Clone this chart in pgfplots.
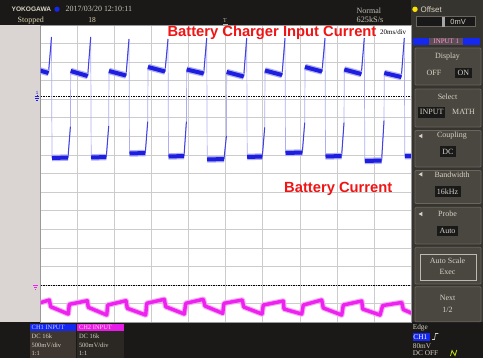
\documentclass[border=0pt]{standalone}
\usepackage{pgfplots}
\usepackage{pgfplotstable}
\pgfplotsset{compat=1.18}
\usepackage{fontspec}
\setmainfont{Liberation Serif}
\newfontfamily\sansf{Liberation Sans}

\definecolor{barbg}{HTML}{1A1918}
\definecolor{panelbg}{HTML}{36342F}
\definecolor{btn}{HTML}{4A4741}
\definecolor{btnedge}{HTML}{6A665D}
\definecolor{uitxt}{HTML}{D8D2C4}
\definecolor{strip}{HTML}{DAD5D3}
\definecolor{gridc}{HTML}{CCCCCC}
\definecolor{tr1}{HTML}{1E1EE0}
\definecolor{tr1light}{HTML}{AEAEF2}
\definecolor{tr2}{HTML}{EE22EE}
\definecolor{redtxt}{HTML}{F01414}
\definecolor{ch1blue}{HTML}{1428F0}
\definecolor{ch2mag}{HTML}{E81CE8}
\definecolor{inmid}{HTML}{5B4C55}
\definecolor{boxone}{HTML}{3E3731}
\definecolor{boxtwo}{HTML}{2B2723}

% CH1 (blue) full trace, screen pixel coordinates (y measured downward)
\pgfplotstableread{
x y
31.5 68
48.5 73
51.5 37
52 158
68 157.5
70.4 126.7
70.7 71
87.7 76
90.7 37
91.2 157.5
106.3 157
108.7 126
109 71
126 75.5
129 39
129.5 153.5
145.3 153
147.7 121.7
148 67
165 71.5
168 39
168.5 156.5
184 156
186.4 121.7
186.7 69.5
203.7 73.5
206.7 38
207.2 159.5
224 159
226.4 136
226.7 72
243.7 76.5
246.7 38
247.2 157
262.3 156.5
264.7 127.3
265 70.5
282 75
285 38
285.5 153
302.3 152.5
304.7 122.7
305 67
322 71.5
325 38
325.5 156.5
341.6 156
344 122.7
344.3 69.5
361.3 74
364.3 38
364.8 161
381.6 160.5
384 120.7
384.3 73
401.3 77
404.3 38
404.8 156
420 156
}\chfull

\pgfplotstableread{
x y
31.5 68
48.5 73
nan nan
70.7 71
87.7 76
nan nan
109 71
126 75.5
nan nan
148 67
165 71.5
nan nan
186.7 69.5
203.7 73.5
nan nan
226.7 72
243.7 76.5
nan nan
265 70.5
282 75
nan nan
305 67
322 71.5
nan nan
344.3 69.5
361.3 74
nan nan
384.3 73
401.3 77
nan nan
52 158
68 157.5
nan nan
91.2 157.5
106.3 157
nan nan
129.5 153.5
145.3 153
nan nan
168.5 156.5
184 156
nan nan
207.2 159.5
224 159
nan nan
247.2 157
262.3 156.5
nan nan
285.5 153
302.3 152.5
nan nan
325.5 156.5
341.6 156
nan nan
364.8 161
381.6 160.5
nan nan
404.8 156
420 156
}\chplat

\pgfplotstableread{
x y
48.5 73
51.5 37
nan nan
68 157.5
70.4 126.7
nan nan
87.7 76
90.7 37
nan nan
106.3 157
108.7 126
nan nan
126 75.5
129 39
nan nan
145.3 153
147.7 121.7
nan nan
165 71.5
168 39
nan nan
184 156
186.4 121.7
nan nan
203.7 73.5
206.7 38
nan nan
224 159
226.4 136
nan nan
243.7 76.5
246.7 38
nan nan
262.3 156.5
264.7 127.3
nan nan
282 75
285 38
nan nan
302.3 152.5
304.7 122.7
nan nan
322 71.5
325 38
nan nan
341.6 156
344 122.7
nan nan
361.3 74
364.3 38
nan nan
381.6 160.5
384 120.7
nan nan
401.3 77
404.3 38
}\chslant

% CH2 (magenta) trace
\pgfplotstableread{
x y
36 304
49.3 300
50.7 306.7
68.3 314
69.3 304.3
87.3 300.7
88.3 307.3
106.7 315
107.7 305
126 300.7
127.3 308.3
145.7 315
146.7 303.3
164.3 299.3
165.7 306.7
184.3 314
185.7 303.3
203.3 299.3
205 306
222.7 313.3
224 303.3
242.3 300
243.7 307
262 314
263.3 305
283.3 301
284 309
301.7 314
303.3 305
321.7 300
323.3 308
341.7 315
343.3 305
361.7 301
362.7 309
380 315
382.7 305.5
401.7 302.5
403.3 309.5
412 313.3
}\chtwo

\begin{document}
\begin{tikzpicture}[x=1bp,y=1bp]
\begin{scope}[yscale=-1]
\useasboundingbox (0,0) rectangle (483,358);
\fill[barbg] (0,0) rectangle (483,358);
\fill[panelbg] (411,0) rectangle (483,322.2);
\fill[strip] (0,24.9) rectangle (40.7,322.2);
\end{scope}

\begin{axis}[at={(40.7bp,-322.2bp)}, anchor=south west, scale only axis,
  width=370.3bp, height=297.3bp,
  xmin=40.7, xmax=411, ymin=-322.2, ymax=-24.9,
  axis background/.style={fill=white},
  xtick={77.73,114.76,151.79,188.82,225.85,262.88,299.91,336.94,373.97},
  ytick={-43.5,-62.1,-80.6,-99.2,-117.8,-136.4,-155,-173.6,-192.1,-210.7,-229.3,-247.9,-266.5,-285.1,-303.6},
  xticklabels={}, yticklabels={}, major tick length=0pt,
  xmajorgrids, ymajorgrids,
  major grid style={draw=gridc, line width=0.8bp},
  axis line style={draw=gridc!75!black, line width=0.6bp},
  unbounded coords=jump, clip=true]
\addplot[black, mark=none, line width=0.8bp, dash pattern=on 1.4bp off 1.1bp] coordinates {(40.7,-96) (411,-96)};
\addplot[black, mark=none, line width=0.8bp, dash pattern=on 1.4bp off 1.1bp] coordinates {(40.7,-285) (411,-285)};
\addplot[tr1light, mark=none, line width=0.7bp] table[y expr=-\thisrow{y}] {\chfull};
\addplot[tr1!85!white, mark=none, line width=1bp] table[y expr=-\thisrow{y}] {\chslant};
\addplot[tr1!35!white, mark=none, line width=6.5bp, line join=round] table[y expr=-\thisrow{y}] {\chplat};
\addplot[tr1, mark=none, line width=4bp, line join=round] table[y expr=-\thisrow{y}] {\chplat};
\addplot[tr2!40!white, mark=none, line width=5.5bp, line join=round] table[y expr=-\thisrow{y}] {\chtwo};
\addplot[tr2, mark=none, line width=3.4bp, line join=round] table[y expr=-\thisrow{y}] {\chtwo};
\end{axis}

\begin{scope}[yscale=-1, every node/.style={inner sep=0pt}]
% overlay labels
\node[anchor=base west, text=redtxt, font=\sansf\bfseries\fontsize{14.8}{16}\selectfont] at (167.3,36.3) {Battery Charger Input Current};
\node[anchor=base west, text=redtxt, font=\sansf\bfseries\fontsize{14.8}{16}\selectfont] at (284,192.5) {Battery Current};
\begin{scope}
\clip (379,26) rectangle (410.6,40);
\fill[white] (379,27.5) rectangle (411,36.5);
\node[anchor=base west, font=\fontsize{7}{7}\selectfont] at (380,34.7) {20ms/div};
\end{scope}

% left strip markers
\node[text=tr1, font=\sansf\fontsize{4.5}{5}\selectfont] at (37,92.5) {1};
\draw[tr1, line width=0.5bp] (34.6,96.5) -- (39.4,96.5) (35.3,98.5) -- (38.7,98.5) (36.1,100.5) -- (37.9,100.5) (37,96.5) -- (37,94.8);
\draw[tr2, line width=0.6bp] (33,285.2) -- (38,285.2) (33.8,287.2) -- (37.2,287.2) (34.7,289.2) -- (36.3,289.2);

% top bar
\node[anchor=west, text=uitxt, font=\sansf\bfseries\fontsize{6.6}{7}\selectfont] at (11.5,9.3) {YOKOGAWA};
\fill[ch1blue] (57,9.2) circle (2.6);
\node[anchor=west, text=uitxt!85!gray, font=\fontsize{8}{9}\selectfont] at (65.5,9.3) {2017/03/20 12:10:11};
\node[anchor=west, text=uitxt!90!yellow, font=\fontsize{8}{9}\selectfont] at (17.5,20.3) {Stopped};
\node[text=uitxt!90!yellow, font=\fontsize{7.5}{8}\selectfont] at (92,20.3) {18};
\node[text=uitxt!70!gray, font=\fontsize{6}{7}\selectfont] at (225,21) {T};
\draw[uitxt!70!gray, line width=0.4bp] (222.5,23.8) -- (227.5,23.8);
\node[anchor=west, text=uitxt!80!gray, font=\fontsize{8}{9}\selectfont] at (356.5,11) {Normal};
\node[anchor=west, text=uitxt!80!gray, font=\fontsize{8.3}{9}\selectfont] at (356.5,19.6) {625kS/s};

% right panel: offset
\fill[yellow!85!orange] (415,9.3) circle (2.7);
\node[anchor=west, text=uitxt, font=\sansf\fontsize{8}{9}\selectfont] at (420.5,9.3) {Offset};
\draw[fill=black!90, draw=btnedge, line width=0.6bp] (416.7,16.7) rectangle (475,26.7);
\fill[gray!70] (441.8,16.9) rectangle (444.8,26.5);
\node[anchor=east, text=uitxt, font=\sansf\fontsize{7.5}{8}\selectfont] at (466,21.7) {0mV};
% INPUT 1 bar
\fill[ch1blue] (412.7,37.7) rectangle (479.5,45.3);
\fill[inmid] (429.3,37.7) rectangle (463.3,45.3);
\node[text=pink!80!magenta, font=\fontsize{7}{8}\selectfont] at (446.3,41.6) {INPUT 1};

% buttons
\tikzset{btnbox/.style={fill=btn, draw=btnedge, line width=0.8bp, rounded corners=1bp}}
\draw[btnbox] (415,48) rectangle (481,85);
\draw[btnbox] (415,89) rectangle (481,127);
\draw[btnbox] (415,130.5) rectangle (481,167);
\draw[btnbox] (415,170.5) rectangle (481,203.5);
\draw[btnbox] (415,207.3) rectangle (481,244);
\draw[btnbox] (415,247.3) rectangle (481,284);
\draw[btnbox] (415,286.7) rectangle (481,321.7);
% highlights
\fill[black!90] (455,67.8) rectangle (471.7,78);
\fill[black!90] (418.3,106.8) rectangle (445,117.6);
\fill[black!90] (440,146.4) rectangle (455.5,156.6);
\fill[black!90] (434.5,186.4) rectangle (460.5,196.8);
\fill[black!90] (437,225.8) rectangle (458,236.2);
\draw[uitxt!70!gray, line width=0.7bp] (420.7,254.2) rectangle (476,280);
% triangles
\fill[uitxt] (418.6,136) -- (422.4,133.8) -- (422.4,138.2) -- cycle;
\fill[uitxt] (418.6,174.3) -- (422.4,172.1) -- (422.4,176.5) -- cycle;
\fill[uitxt] (418.6,214) -- (422.4,211.8) -- (422.4,216.2) -- cycle;
\begin{scope}[every node/.append style={text=uitxt, font=\fontsize{8}{9}\selectfont}]
\node at (447.5,56.5) {Display};
\node at (434,73) {OFF};
\node at (463.3,73) {ON};
\node at (447.5,96.5) {Select};
\node at (431.7,112.3) {INPUT};
\node at (463.5,112.3) {MATH};
\node at (452,136) {Coupling};
\node at (447.8,151.7) {DC};
\node at (452,174.3) {Bandwidth};
\node at (447.5,191.7) {16kHz};
\node at (447.5,214) {Probe};
\node at (447.5,231) {Auto};
\node at (447.5,260.5) {Auto Scale};
\node at (447.5,271.5) {Exec};
\node at (447.5,298) {Next};
\node at (447.5,310) {1/2};
\end{scope}

% bottom bar channel boxes
\fill[ch1blue] (30,323.5) rectangle (76,331);
\fill[boxone] (30,331) rectangle (76,358);
\fill[ch2mag] (77.3,323.5) rectangle (124,331);
\fill[boxtwo] (77.3,331) rectangle (124,358);
\begin{scope}[every node/.append style={anchor=west, font=\fontsize{6.5}{7}\selectfont}]
\node[text=blue!20!white] at (31.5,327.4) {CH1 INPUT};
\node[text=pink!60!white] at (78.8,327.4) {CH2 INPUT};
\node[text=uitxt] at (31.5,336.7) {DC 16k};
\node[text=uitxt] at (31.5,345) {500mV/div};
\node[text=uitxt] at (31.5,352.9) {1:1};
\node[text=uitxt] at (78.8,336.7) {DC 16k};
\node[text=uitxt] at (78.8,345) {500mV/div};
\node[text=uitxt] at (78.8,352.9) {1:1};
\end{scope}

% trigger info bottom right
\fill[ch1blue] (412.7,332.8) rectangle (430,340.6);
\begin{scope}[every node/.append style={anchor=west, font=\fontsize{7.3}{8}\selectfont}]
\node[text=uitxt] at (412.7,327.3) {Edge};
\node[text=white] at (413.2,336.8) {CH1};
\node[text=uitxt] at (412.7,346) {80mV};
\node[text=uitxt] at (412.7,353) {DC OFF};
\end{scope}
\draw[uitxt, line width=0.6bp] (432,339.5) -- (434.5,339.5) -- (435.5,333.5) -- (438.3,333.5);
\draw[yellow!75!green, line width=0.8bp] (450.5,356) -- (452,350.5) -- (455,355.5) -- (456.8,350) ;
\end{scope}
\end{tikzpicture}
\end{document}
